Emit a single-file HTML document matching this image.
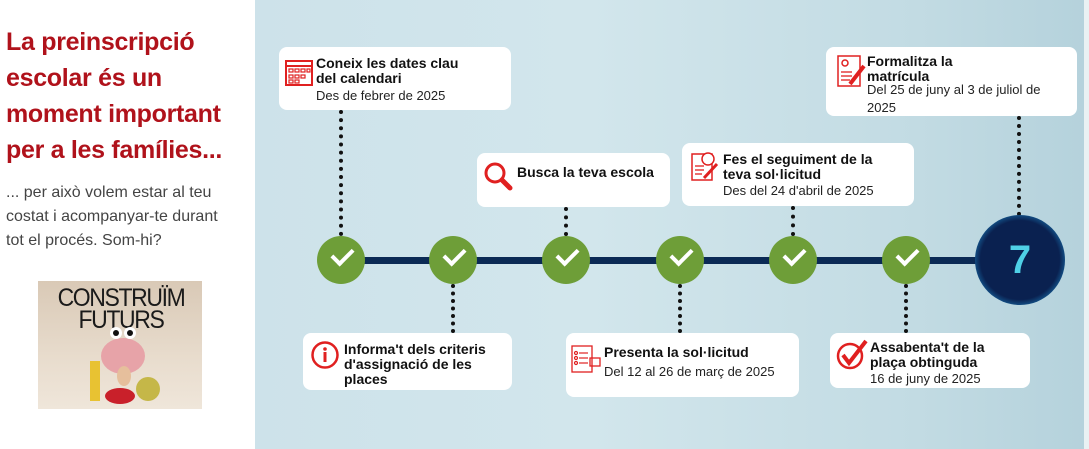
<!DOCTYPE html>
<html><head><meta charset="utf-8"><style>
*{margin:0;padding:0;box-sizing:border-box}
body{width:1089px;height:449px;overflow:hidden;background:#fff;font-family:"Liberation Sans","DejaVu Sans",sans-serif;position:relative}
.h{position:absolute;left:6px;top:24px;width:240px;color:#b0121b;font-size:25px;line-height:36px;font-weight:bold;letter-spacing:-0.3px}
.p{position:absolute;left:6px;top:181px;width:232px;color:#444;font-size:16px;line-height:24px}
.img{position:absolute;left:38px;top:281px;width:164px;height:128px;background:linear-gradient(180deg,#d9c9b6,#e8dccd 60%,#efe6da)}
.img .t{position:absolute;left:3px;top:6px;width:160px;font-size:25px;line-height:22px;color:#1a1a1a;text-align:center;letter-spacing:-1.5px;transform:scaleX(0.92)}
.panel{position:absolute;left:255px;top:0;width:829px;height:449px;background:linear-gradient(90deg,#cde2ea 0%,#d2e6ec 40%,#c2dbe3 80%,#b5d2dc 100%)}
.edge{position:absolute;left:1084px;top:0;width:5px;height:449px;background:#e9f1f3}
.line{position:absolute;left:341px;top:257px;width:680px;height:7px;background:#0b2a55}
.c{position:absolute;width:48px;height:48px;border-radius:50%;background:#6e9e38;top:236px;margin-left:-24px}
.c:after{content:"";position:absolute;left:15px;top:12px;width:17px;height:9px;border-left:4px solid #fff;border-bottom:4px solid #fff;transform:rotate(-45deg)}
.big{position:absolute;left:975px;top:215px;width:90px;height:90px;border-radius:50%;background:radial-gradient(circle,#0a2150 0%,#0a2150 62%,#1a78b5 80%,#3fa6de 100%);color:#4fd0e6;font-size:40px;font-weight:bold;text-align:center;line-height:90px}
.d{position:absolute;width:0;border-left:4px dotted #111;margin-left:-2px}
.b{position:absolute;background:#fff;border-radius:8px;color:#111}
.b .ti{position:absolute;font-weight:bold;font-size:14px;line-height:15px}
.b .s{position:absolute;font-size:13px;line-height:18px;color:#222}
.ic{position:absolute}
</style></head><body>
<div class="h">La preinscripció escolar és un moment important per a les famílies...</div>
<div class="p">... per això volem estar al teu costat i acompanyar-te durant tot el procés. Som-hi?</div>
<div class="img"><div class="t">CONSTRUÏM<br>FUTURS</div>
<svg style="position:absolute;left:50px;top:40px" width="80" height="85"><ellipse cx="35" cy="35" rx="22" ry="18" fill="#e7a3a8"/><circle cx="28" cy="12" r="6" fill="#fff"/><circle cx="42" cy="12" r="6" fill="#fff"/><circle cx="28" cy="12" r="3" fill="#111"/><circle cx="42" cy="12" r="3" fill="#111"/><rect x="2" y="40" width="10" height="40" fill="#e8c232"/><ellipse cx="32" cy="75" rx="15" ry="8" fill="#c9202a"/><circle cx="60" cy="68" r="12" fill="#c5b748"/><ellipse cx="36" cy="55" rx="7" ry="10" fill="#e6bf9c"/></svg>
</div>
<div class="panel"></div><div class="edge"></div>
<div class="line"></div>

<div class="d" style="left:341px;top:110px;height:126px"></div>
<div class="d" style="left:453px;top:284px;height:49px"></div>
<div class="d" style="left:566px;top:207px;height:29px"></div>
<div class="d" style="left:680px;top:284px;height:49px"></div>
<div class="d" style="left:793px;top:206px;height:30px"></div>
<div class="d" style="left:906px;top:284px;height:49px"></div>
<div class="d" style="left:1019px;top:116px;height:100px"></div>

<div class="c" style="left:341px"></div>
<div class="c" style="left:453px"></div>
<div class="c" style="left:566px"></div>
<div class="c" style="left:680px"></div>
<div class="c" style="left:793px"></div>
<div class="c" style="left:906px"></div>
<div class="big">7</div>

<div class="b" style="left:279px;top:47px;width:232px;height:63px">
<svg class="ic" style="left:5px;top:10px" width="30" height="30"><rect x="2" y="4" width="26" height="24" fill="none" stroke="#e02020" stroke-width="2"/><line x1="2" y1="9" x2="28" y2="9" stroke="#e02020" stroke-width="2"/><g fill="none" stroke="#e02020" stroke-width="1.2"><rect x="5" y="12" width="4" height="3"/><rect x="11" y="12" width="4" height="3"/><rect x="17" y="12" width="4" height="3"/><rect x="23" y="12" width="3" height="3"/><rect x="5" y="18" width="4" height="3"/><rect x="11" y="18" width="4" height="3"/><rect x="17" y="18" width="4" height="3"/><rect x="5" y="23" width="4" height="3"/><rect x="11" y="23" width="4" height="3"/></g></svg>
<div class="ti" style="left:37px;top:9px">Coneix les dates clau<br>del calendari</div>
<div class="s" style="left:37px;top:40px">Des de febrer de 2025</div></div>

<div class="b" style="left:477px;top:153px;width:193px;height:54px">
<svg class="ic" style="left:6px;top:8px" width="30" height="32"><circle cx="12" cy="12" r="9" fill="none" stroke="#e02020" stroke-width="3"/><line x1="19" y1="19" x2="27" y2="27" stroke="#e02020" stroke-width="5" stroke-linecap="round"/></svg>
<div class="ti" style="left:40px;top:12px">Busca la teva escola</div></div>

<div class="b" style="left:682px;top:143px;width:232px;height:63px">
<svg class="ic" style="left:8px;top:7px" width="30" height="34"><rect x="2" y="4" width="20" height="26" fill="none" stroke="#e02020" stroke-width="1.5"/><circle cx="18" cy="9" r="6" fill="#fff" stroke="#e02020" stroke-width="1.5"/><g stroke="#e02020" stroke-width="1.3"><line x1="5" y1="16" x2="14" y2="16"/><line x1="5" y1="20" x2="14" y2="20"/><line x1="5" y1="24" x2="12" y2="24"/></g><line x1="14" y1="28" x2="27" y2="14" stroke="#e02020" stroke-width="3"/></svg>
<div class="ti" style="left:41px;top:9px">Fes el seguiment de la<br>teva sol·licitud</div>
<div class="s" style="left:41px;top:39px">Des del 24 d'abril de 2025</div></div>

<div class="b" style="left:826px;top:47px;width:251px;height:69px">
<svg class="ic" style="left:10px;top:7px" width="30" height="36"><rect x="2" y="2" width="22" height="30" fill="none" stroke="#e02020" stroke-width="1.5"/><circle cx="9" cy="9" r="3" fill="none" stroke="#e02020" stroke-width="1.5"/><g stroke="#e02020" stroke-width="1.3"><line x1="5" y1="18" x2="16" y2="18"/><line x1="5" y1="22" x2="16" y2="22"/><line x1="5" y1="26" x2="14" y2="26"/></g><line x1="14" y1="30" x2="28" y2="12" stroke="#e02020" stroke-width="4"/></svg>
<div class="ti" style="left:41px;top:7px">Formalitza la<br>matrícula</div>
<div class="s" style="left:41px;top:34px">Del 25 de juny al 3 de juliol de<br>2025</div></div>

<div class="b" style="left:303px;top:333px;width:209px;height:57px">
<svg class="ic" style="left:7px;top:7px" width="30" height="30"><circle cx="15" cy="15" r="12.5" fill="none" stroke="#e02020" stroke-width="2.5"/><circle cx="15" cy="9" r="1.8" fill="#e02020"/><rect x="13.5" y="12" width="3" height="10" fill="#e02020"/></svg>
<div class="ti" style="left:41px;top:9px">Informa't dels criteris<br>d'assignació de les<br>places</div></div>

<div class="b" style="left:566px;top:333px;width:233px;height:64px">
<svg class="ic" style="left:4px;top:11px" width="32" height="32"><rect x="2" y="2" width="20" height="26" fill="none" stroke="#e02020" stroke-width="1.3"/><g stroke="#e02020" stroke-width="1.2"><circle cx="6" cy="9" r="1.5" fill="none"/><line x1="9" y1="9" x2="18" y2="9"/><circle cx="6" cy="14" r="1.5" fill="none"/><line x1="9" y1="14" x2="18" y2="14"/><circle cx="6" cy="19" r="1.5" fill="none"/><line x1="9" y1="19" x2="18" y2="19"/></g><rect x="20" y="14" width="10" height="8" fill="none" stroke="#e02020" stroke-width="1.3"/></svg>
<div class="ti" style="left:38px;top:12px">Presenta la sol·licitud</div>
<div class="s" style="left:38px;top:30px">Del 12 al 26 de març de 2025</div></div>

<div class="b" style="left:830px;top:333px;width:200px;height:55px">
<svg class="ic" style="left:6px;top:6px" width="34" height="32"><circle cx="14" cy="17" r="12" fill="none" stroke="#e02020" stroke-width="2.5"/><path d="M7 16 L13 24 L30 2" fill="none" stroke="#e02020" stroke-width="4"/></svg>
<div class="ti" style="left:40px;top:7px">Assabenta't de la<br>plaça obtinguda</div>
<div class="s" style="left:40px;top:37px">16 de juny de 2025</div></div>
</body></html>
